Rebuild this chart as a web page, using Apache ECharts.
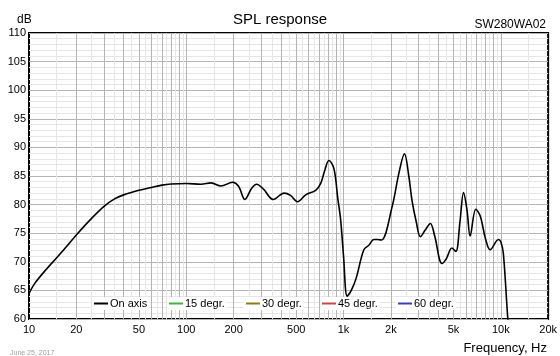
<!DOCTYPE html>
<html>
<head>
<meta charset="utf-8">
<script src="https://cdn.jsdelivr.net/npm/echarts@6/dist/echarts.min.js"></script>
<style>html,body{margin:0;padding:0;background:#fff}#c{width:560px;height:356px}</style>
</head>
<body>
<div id="c"></div>
<script>
var freqs = [10,11,12.9,15,17,20,25,30,35,40,50,60,70,80,100,124,144,166,197,215,236,260,280,310,357,419,460,509,575,665,716,760,807,869,920,959,1000,1055,1120,1202,1346,1449,1558,1650,1743,2036,2250,2440,2600,2723,2900,3080,3300,3565,3800,4226,4500,4887,5180,5500,5798,6100,6385,6936,7400,8000,8550,9660,10000,10380,11060,11300];
var onAxis = [64.5,66.4,68.7,70.7,72.4,74.7,77.6,79.7,81.0,81.7,82.5,83.0,83.4,83.6,83.7,83.55,83.8,83.25,83.9,83.2,80.9,82.8,83.55,82.7,80.9,82.0,81.6,80.5,81.7,82.5,83.7,86.0,87.7,86.3,81.0,77.3,71.0,64.0,65.0,67.1,72.1,72.9,73.9,73.9,73.8,79.6,85.5,88.9,85.0,80.8,77.0,74.4,75.5,76.7,74.5,69.7,70.5,72.4,71.8,77.0,82.1,79.0,74.5,79.2,78.0,74.0,72.1,73.9,73.5,71.5,60.4,58.0];
var seriesNames = ['On axis','15 degr.','30 degr.','45 degr.','60 degr.'];
var seriesColors = ['#000000','#44b044','#8c7d1e','#c84646','#3c3cb4'];
var xTickLabels = [10,20,50,100,200,500,1000,2000,5000,10000,20000];
var majorGrid = [20,30,40,50,60,70,80,90,100,200,300,400,500,600,700,800,900,1000,2000,3000,4000,5000,6000,7000,8000,9000,10000];
var minorGrid = [15,25,35,45,55,65,75,85,95,150,250,350,450,550,650,750,850,950,1500,2500,3500,4500,5500,6500,7500,8500,9500,15000];
var legendLeft = [92,167,244,320,396];

var font = '"Liberation Sans", Arial, sans-serif';
var chart = echarts.init(document.getElementById('c'), null, {renderer:'canvas'});

var series = [
  {
    type:'line', name:'gridMinor', data:[], silent:true, z:1,
    markLine:{silent:true, symbol:'none', animation:false, label:{show:false},
      lineStyle:{color:'#e6e6e6', width:1, type:'solid'},
      data: minorGrid.map(function(f){return {xAxis:f};})}
  },
  {
    type:'line', name:'gridMajor', data:[], silent:true, z:1,
    markLine:{silent:true, symbol:'none', animation:false, label:{show:false},
      lineStyle:{color:'#b4b4b4', width:1, type:'solid'},
      data: majorGrid.map(function(f){return {xAxis:f};})}
  }
];
seriesNames.forEach(function(n,i){
  series.push({
    type:'line', name:n, color:seriesColors[i], showSymbol:false, symbol:'none',
    smooth:0.35, clip:true, z:5,
    itemStyle:{color:seriesColors[i]},
    lineStyle:{width:1.6, color:seriesColors[i], type:'solid'},
    data: i===0 ? freqs.map(function(f,k){return [f,onAxis[k]];}) : []
  });
});

var legends = seriesNames.map(function(n,i){
  return {data:[n], left:legendLeft[i], top:297, padding:[1,2,1,2], icon:'path://M0,0H14V2H0Z', itemWidth:14, itemHeight:2,
    itemGap:0, selectedMode:false, backgroundColor:'#ffffff', z:20,
    itemStyle:{color:seriesColors[i], borderWidth:0},
    lineStyle:{type:'solid'},
    textStyle:{fontFamily:font, fontSize:11, color:'#000', padding:[0,0,0,-3]}};
});

chart.setOption({
  animation:false,
  backgroundColor:'#fff',
  title:[
    {text:'SPL response', left:'center', top:7, textStyle:{fontFamily:font, fontSize:15, fontWeight:'normal', color:'#000'}},
    {text:'dB', left:12, top:9, textStyle:{fontFamily:font, fontSize:12, fontWeight:'normal', color:'#000'}},
    {text:'SW280WA02', right:9, top:14, textStyle:{fontFamily:font, fontSize:12, fontWeight:'normal', color:'#000'}},
    {text:'Frequency, Hz', right:8, top:337, textStyle:{fontFamily:font, fontSize:13, fontWeight:'normal', color:'#000'}},
    {text:'June 25, 2017', left:5, top:345, textStyle:{fontFamily:font, fontSize:7, fontWeight:'normal', color:'#a0a0a0'}}
  ],
  legend: legends,
  grid:{left:29, right:10, top:33, bottom:37, show:true, borderColor:'#000', borderWidth:2, backgroundColor:'transparent'},
  xAxis:{
    type:'log', logBase:10, min:10, max:20000,
    axisLine:{show:false}, axisTick:{show:false}, splitLine:{show:false},
    axisLabel:{customValues:xTickLabels, fontFamily:font, fontSize:11, color:'#000', margin:5,
      formatter:function(v){return v>=1000 ? (v/1000)+'k' : String(v);}}
  },
  yAxis:{
    type:'value', min:60, max:110, interval:5,
    axisLine:{show:false}, axisTick:{show:false},
    axisLabel:{fontFamily:font, fontSize:11, color:'#000', margin:3},
    splitLine:{show:true, lineStyle:{color:'#b4b4b4', width:1}},
    minorTick:{show:false, splitNumber:5},
    minorSplitLine:{show:true, lineStyle:{color:'#e6e6e6', width:1}}
  },
  series: series
});
</script>
</body>
</html>
